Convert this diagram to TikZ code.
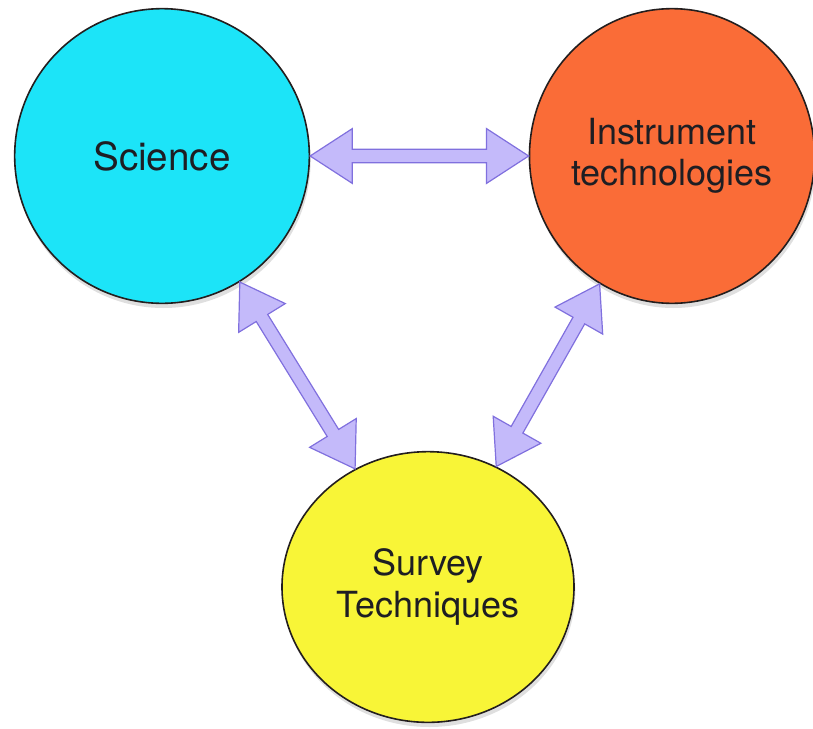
\documentclass[tikz,border=0pt]{standalone}
\usepackage{fontspec}
\setmainfont{TeX Gyre Heros}
\usetikzlibrary{shapes.geometric,shapes.arrows,shadows,calc}
\definecolor{sciCyan}{RGB}{28,228,248}
\definecolor{insOrange}{RGB}{250,108,55}
\definecolor{survYellow}{RGB}{248,245,55}
\definecolor{topicLine}{RGB}{35,30,30}
\definecolor{topicText}{RGB}{30,30,35}
\definecolor{linkFill}{RGB}{196,186,250}
\definecolor{linkLine}{RGB}{128,112,222}

\begin{document}
\begin{tikzpicture}[
    x=0.75pt, y=-0.75pt,
    topic/.style={%
      ellipse,
      draw=topicLine,
      line width=1.2pt,
      inner sep=0pt,
      align=center,
      text=topicText,
      font=\fontsize{27}{31}\selectfont,
      drop shadow={opacity=0.25,shadow xshift=1pt,shadow yshift=-3.5pt},
    },
    link/.style={%
      double arrow,
      draw=linkLine,
      fill=linkFill,
      line width=0.9pt,
      inner xsep=0pt,
      inner ysep=4.6pt,
      minimum width=0pt,
      double arrow head extend=15.5pt,
      double arrow tip angle=66,
      double arrow head indent=0pt,
    },
  ]
    \useasboundingbox (0,0) rectangle (813,728);

    \node [topic, fill=sciCyan, minimum width=221pt, minimum height=221pt,
      font=\fontsize{29}{33}\selectfont] (sci) at (162,156) {Science};
    \node [topic, fill=insOrange, minimum width=210pt, minimum height=221pt] (ins) at (672,156) {Instrument\\technologies};
    \node [topic, fill=survYellow, minimum width=219pt, minimum height=203pt] (surv) at (428,587) {Survey\\Techniques};

    \foreach \a/\b in {sci/ins, sci/surv, ins/surv} {
      \path (\a) -- (\b) coordinate [pos=0] (p) coordinate [pos=1] (q);
      \path let \p1=($(q)-(p)$), \n1={veclen(\x1,\y1)} in
        (p) -- (q) node [link, midway, sloped, minimum height=\n1] {};
    }
\end{tikzpicture}
\end{document}
